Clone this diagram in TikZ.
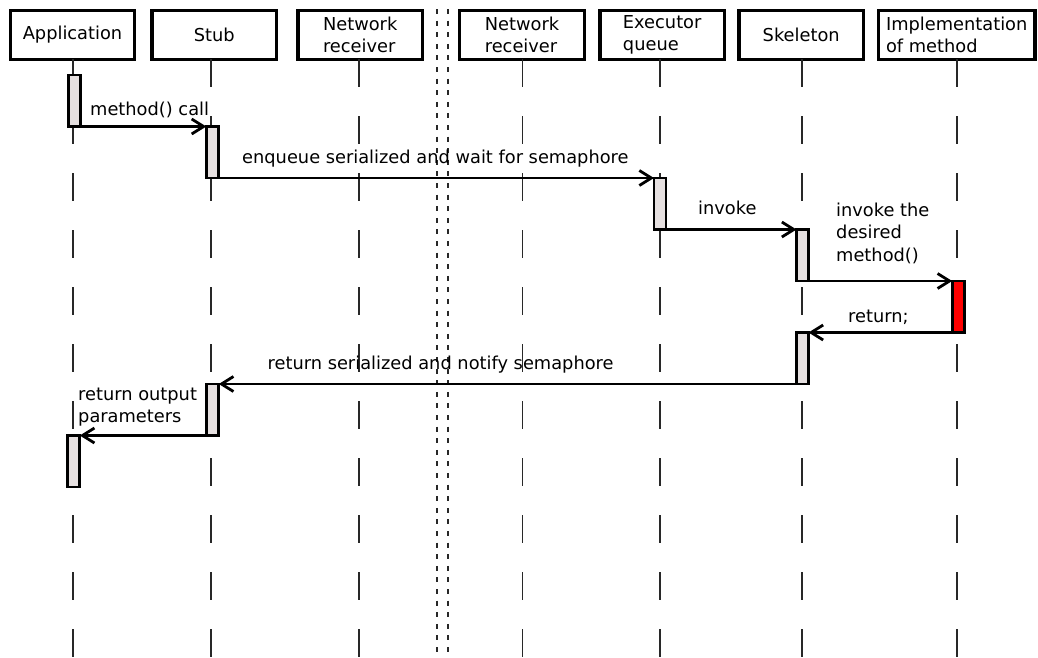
\documentclass[tikz,border=0pt]{standalone}
\usepackage{fontspec}
\setmainfont{DejaVu Sans}
\usetikzlibrary{arrows.meta}
\definecolor{barfill}{RGB}{230,224,224}
\definecolor{lifegray}{RGB}{40,40,40}
\begin{document}
\begin{tikzpicture}[x=1pt,y=-1pt,
  font=\fontsize{17.8}{21.5}\selectfont,
  actor/.style={draw, line width=3.2pt, minimum width=124.5pt, minimum height=48.5pt,
    inner sep=0pt, outer sep=0pt, align=left},
  lifeline/.style={line width=1.7pt, draw=lifegray, dash pattern=on 28pt off 29pt},
  activation/.style={draw, line width=2.9pt, fill=barfill, minimum width=12pt,
    minimum height=51.5pt, inner sep=0pt, outer sep=0pt},
  msg/.style={line width=2.8pt, -{Straight Barb[length=12pt,width=15pt]}},
  msglabel/.style={anchor=base west, inner sep=0pt, align=left,
    font=\fontsize{17.8}{22.5}\selectfont},
  separator/.style={line width=1.7pt, draw=lifegray, dash pattern=on 5pt off 6.6pt}]

\useasboundingbox (0,0) rectangle (1038,657);

% participants
\node[actor] (app)  at (72.5,35)  {Application};
\node[actor] (stub) at (214.2,35) {Stub};
\node[actor] (nrA)  at (360.2,35) {Network\\receiver};
\node[actor] (nrB)  at (522,35)   {Network\\receiver};
\node[actor] (exec) at (662.2,35) {Executor\\queue};
\node[actor] (skel) at (801.2,35) {Skeleton};
\node[actor, minimum width=156.5pt] (impl) at (956.7,35) {Implementation\\of method};

% lifelines
\coordinate (appEnd)  at (72.7,657);
\coordinate (stubEnd) at (210.7,657);
\coordinate (nrAEnd)  at (359,657);
\coordinate (nrBEnd)  at (522.5,657);
\coordinate (execEnd) at (660,657);
\coordinate (skelEnd) at (802,657);
\coordinate (implEnd) at (957,657);
\foreach \p in {app,stub,nrA,nrB,exec,skel,impl}
  \draw[lifeline] (\p.south -| \p End) -- (\p End);

% network boundary
\coordinate (sepAtop) at (436.7,9);
\coordinate (sepAbot) at (436.7,653);
\coordinate (sepBtop) at (448.3,9);
\coordinate (sepBbot) at (448.3,653);
\draw[separator] (sepAtop) -- (sepAbot);
\draw[separator] (sepBtop) -- (sepBbot);

% activations
\node[activation] (appA)  at (74.2,100.75)  {};
\node[activation] (stubA) at (212.3,152.25) {};
\node[activation] (execA) at (660,203.75)   {};
\node[activation] (skelA) at (802.5,255.25) {};
\node[activation, fill=red] (implA) at (958.2,306.75) {};
\node[activation] (skelB) at (802.5,358.25) {};
\node[activation] (stubB) at (212.8,409.75) {};
\node[activation] (appB)  at (73.8,461.25)  {};

% messages
\draw[msg] (appA.south east)  -- (stubA.north west);
\draw[msg] (stubA.south east) -- (execA.north west);
\draw[msg] (execA.south east) -- (skelA.north west);
\draw[msg] (skelA.south east) -- (implA.north west);
\draw[msg] (implA.south west) -- (skelB.north east);
\draw[msg] (skelB.south west) -- (stubB.north east);
\draw[msg] (stubB.south west) -- (appB.north east);

% message labels
\node[msglabel] (l1) at (90,115)    {method() call};
\node[msglabel] (l2) at (242,163)   {enqueue serialized and wait for semaphore};
\node[msglabel] (l3) at (698,214)   {invoke};
\node[msglabel] (l4) at (836,261)   {invoke the\\desired\\method()};
\node[msglabel] (l5) at (848,322)   {return;};
\node[msglabel] (l6) at (267.5,369) {return serialized and notify semaphore};
\node[msglabel, font=\fontsize{17.8}{22}\selectfont] (l7) at (78,422) {return output\\parameters};
\end{tikzpicture}
\end{document}
